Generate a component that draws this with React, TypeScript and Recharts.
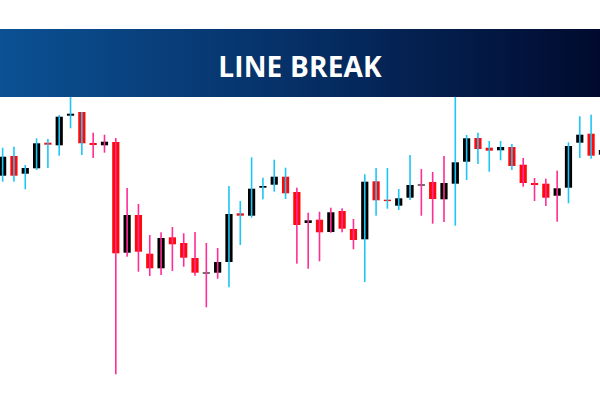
import { ComposedChart, Bar, XAxis, YAxis } from "recharts";

// prices (arbitrary units, 400 = top of chart)
const opens = [224.3, 244, 226.3, 231.7, 257.3, 254.7, 284.3, 288, 257, 254.7, 258, 147.3, 185, 146.3, 131.7, 162.7, 157, 142, 127.7, 127.3, 138, 186.7, 184.3, 212.3, 215.3, 223.3, 208, 177, 180.3, 168, 189, 171, 160.7, 218.7, 200.3, 194.3, 202.3, 215.7, 218, 200.7, 216.3, 238.3, 262, 252.3, 249.7, 253, 235.3, 217, 216.3, 204.3, 212.3, 257.3, 266.3, 245.3];
const closes = [243.3, 224.3, 232, 256.7, 255.3, 283.3, 286.3, 256.7, 255, 258.3, 146.7, 185, 148.3, 131.7, 162, 155.7, 142.3, 127.3, 127.7, 138, 186, 184.3, 211.3, 214, 223.3, 206.7, 175, 179.7, 167.7, 187.7, 171.3, 160, 218.3, 199.7, 199, 201.7, 215, 215.7, 201, 217, 237.7, 261.7, 251, 249.3, 253, 234, 217, 215, 202.3, 211.7, 254, 265.3, 244.3, 250];
const highs = [252.3, 253.3, 235, 261.7, 261, 285, 312, 288, 267.3, 265.3, 262, 212, 196, 165, 167.7, 173, 166.7, 168, 157, 152, 214, 199, 242.7, 222.3, 240.3, 232.3, 212.3, 187.3, 188.3, 192.3, 191.7, 181, 225.7, 232, 232, 211, 245, 231, 228, 244, 312, 265, 267.3, 259, 259, 256, 242, 222, 221.3, 229.3, 257.7, 283.7, 285.3, 255];
const lows = [218.3, 218.3, 210.7, 230, 232, 244.3, 271.7, 245, 242, 247.3, 25.7, 143.3, 128.3, 124, 125, 129, 133.3, 124.3, 92.7, 121.3, 112.7, 155, 182.3, 200.7, 208.3, 201, 136.3, 131.3, 138.7, 167.3, 167.7, 150.7, 118, 184.3, 191.3, 190, 200, 184.3, 176.3, 178, 174.3, 220, 236, 228.3, 239.7, 230, 213.3, 199, 194, 178.3, 196.7, 242, 241.3, 242];
// line break direction (wick colour)
const trend = [
  "up", "up", "up", "up", "up", "up", "up", "up",
  "down", "down", "down", "down", "down", "down", "down", "down", "down", "down", "down", "down",
  "up", "up", "up", "up", "up", "up",
  "down", "down", "down", "down", "down", "down",
  "up", "up", "up", "up", "up",
  "down", "down", "down",
  "up", "up", "up", "up", "up", "up",
  "down", "down", "down", "down",
  "up", "up", "up", "up",
];

const data = opens.map((o, i) => ({
  i,
  open: o,
  close: closes[i],
  high: highs[i],
  low: lows[i],
  trend: trend[i],
}));

const STEP = 11.317;

const Candle = (props: any) => {
  const { x, y, width, height, payload } = props;
  const { open, close, high, low } = payload;
  const top0 = Math.min(y, y + height);
  const h = Math.abs(height);
  const k = h / (high - low);
  const py = (v: number) => top0 + (high - v) * k;
  const cx = x + width / 2;
  const bodyTop = py(Math.max(open, close));
  const bodyBot = py(Math.min(open, close));
  const doji = Math.abs(open - close) < 0.5;
  const fill = doji ? "#333" : close > open ? "#000" : "#ff0a0a";
  const wick = payload.trend === "up" ? "#1cc6f8" : "#ff2d95";
  return (
    <g>
      <rect x={cx - 3.6} y={bodyTop} width={7.2} height={Math.max(bodyBot - bodyTop, 1.4)} fill={fill} />
      <rect x={cx - 0.8} y={top0} width={1.6} height={h} fill={wick} />
    </g>
  );
};

export default function App() {
  return (
    <div style={{ position: "absolute", left: 0, top: 0, width: 600, height: 400, overflow: "hidden", background: "#fff" }}>
      <div style={{ position: "absolute", left: 2.5 - STEP / 2, top: 0 }}>
        <ComposedChart width={STEP * data.length} height={400} data={data} margin={{ top: 0, right: 0, bottom: 0, left: 0 }}>
          <XAxis dataKey="i" hide />
          <YAxis hide domain={[0, 400]} />
          <Bar dataKey={(d: any) => [d.low, d.high]} shape={<Candle />} isAnimationActive={false} />
        </ComposedChart>
      </div>
      <div
        style={{
          position: "absolute",
          left: 0,
          top: 29,
          width: 600,
          height: 68,
          boxSizing: "border-box",
          paddingTop: 6,
          background: "linear-gradient(to right, #0b5193, #062f66 50%, #010a2e)",
          color: "#fff",
          display: "flex",
          alignItems: "center",
          justifyContent: "center",
          fontFamily: "'Open Sans', sans-serif",
          fontWeight: 700,
          fontSize: 28,
          letterSpacing: 0.2,
        }}
      >
        LINE BREAK
      </div>
    </div>
  );
}
